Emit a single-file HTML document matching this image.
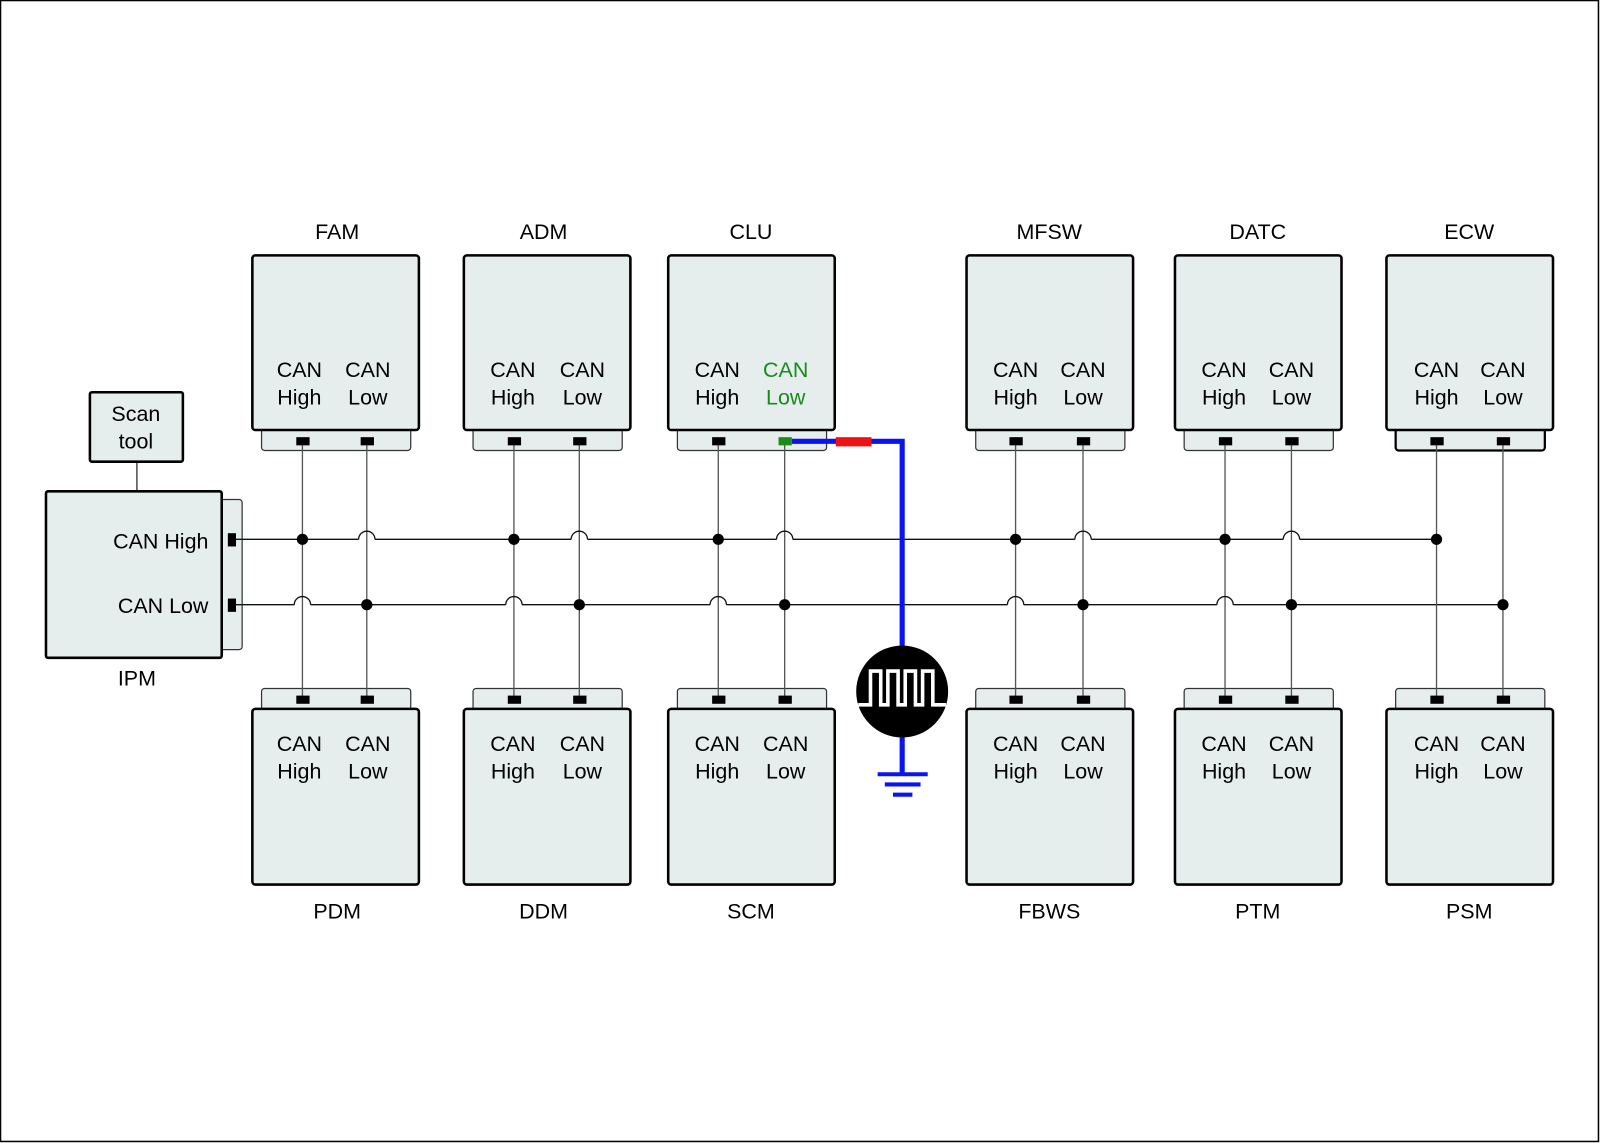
<!DOCTYPE html>
<html><head><meta charset="utf-8"><style>
html,body{margin:0;padding:0;background:#fff}
svg{display:block}
text{font-family:"Liberation Sans",Arial,sans-serif;font-size:21px;fill:#000;text-anchor:middle}
.b{fill:#e6eded;stroke:#000;stroke-width:2.5}
.s{fill:#e6eded;stroke:#333;stroke-width:1.2}
.v{stroke:#555;stroke-width:1.3}
.h{stroke:#111;stroke-width:1.3;fill:none}
</style></head><body>
<svg width="1600" height="1143" viewBox="0 0 1566 1119" preserveAspectRatio="none" xmlns="http://www.w3.org/2000/svg">
<rect x="0.5" y="0.5" width="1564" height="1117" fill="#fff" stroke="#000" stroke-width="1.5"/>

<g>
<rect class="s" x="256" y="415" width="146" height="26" rx="3"/>
<rect class="s" x="463" y="415" width="146" height="26" rx="3"/>
<rect class="s" x="663" y="415" width="146" height="26" rx="3"/>
<rect class="s" x="955" y="415" width="146" height="26" rx="3"/>
<rect class="s" x="1159" y="415" width="146" height="26" rx="3"/>
<rect x="1366" y="415" width="146" height="26" rx="3" fill="#e6eded" stroke="#000" stroke-width="2.2"/>
</g>
<rect class="b" x="247" y="250" width="163" height="171" rx="3"/>
<rect class="b" x="454" y="250" width="163" height="171" rx="3"/>
<rect class="b" x="654" y="250" width="163" height="171" rx="3"/>
<rect class="b" x="946" y="250" width="163" height="171" rx="3"/>
<rect class="b" x="1150" y="250" width="163" height="171" rx="3"/>
<rect class="b" x="1357" y="250" width="163" height="171" rx="3"/>
<rect class="s" x="256" y="674" width="146" height="26" rx="3"/>
<rect class="s" x="463" y="674" width="146" height="26" rx="3"/>
<rect class="s" x="663" y="674" width="146" height="26" rx="3"/>
<rect class="s" x="955" y="674" width="146" height="26" rx="3"/>
<rect class="s" x="1159" y="674" width="146" height="26" rx="3"/>
<rect class="s" x="1366" y="674" width="146" height="26" rx="3"/>
<rect class="b" x="247" y="694" width="163" height="172" rx="3"/>
<rect class="b" x="454" y="694" width="163" height="172" rx="3"/>
<rect class="b" x="654" y="694" width="163" height="172" rx="3"/>
<rect class="b" x="946" y="694" width="163" height="172" rx="3"/>
<rect class="b" x="1150" y="694" width="163" height="172" rx="3"/>
<rect class="b" x="1357" y="694" width="163" height="172" rx="3"/>

<text x="330" y="234">FAM</text><text x="532" y="234">ADM</text><text x="735" y="234">CLU</text>
<text x="1027" y="234">MFSW</text><text x="1231" y="234">DATC</text><text x="1438" y="234">ECW</text>
<text x="330" y="899">PDM</text><text x="532" y="899">DDM</text><text x="735" y="899">SCM</text>
<text x="1027" y="899">FBWS</text><text x="1231" y="899">PTM</text><text x="1438" y="899">PSM</text>

<text x="293" y="369">CAN</text><text x="293" y="396">High</text><text x="360" y="369">CAN</text><text x="360" y="396">Low</text>
<text x="502" y="369">CAN</text><text x="502" y="396">High</text><text x="570" y="369">CAN</text><text x="570" y="396">Low</text>
<text x="702" y="369">CAN</text><text x="702" y="396">High</text><text x="769" y="369" style="fill:#1a8a1a">CAN</text><text x="769" y="396" style="fill:#1a8a1a">Low</text>
<text x="994" y="369">CAN</text><text x="994" y="396">High</text><text x="1060" y="369">CAN</text><text x="1060" y="396">Low</text>
<text x="1198" y="369">CAN</text><text x="1198" y="396">High</text><text x="1264" y="369">CAN</text><text x="1264" y="396">Low</text>
<text x="1406" y="369">CAN</text><text x="1406" y="396">High</text><text x="1471" y="369">CAN</text><text x="1471" y="396">Low</text>
<text x="293" y="735">CAN</text><text x="293" y="762">High</text><text x="360" y="735">CAN</text><text x="360" y="762">Low</text>
<text x="502" y="735">CAN</text><text x="502" y="762">High</text><text x="570" y="735">CAN</text><text x="570" y="762">Low</text>
<text x="702" y="735">CAN</text><text x="702" y="762">High</text><text x="769" y="735">CAN</text><text x="769" y="762">Low</text>
<text x="994" y="735">CAN</text><text x="994" y="762">High</text><text x="1060" y="735">CAN</text><text x="1060" y="762">Low</text>
<text x="1198" y="735">CAN</text><text x="1198" y="762">High</text><text x="1264" y="735">CAN</text><text x="1264" y="762">Low</text>
<text x="1406" y="735">CAN</text><text x="1406" y="762">High</text><text x="1471" y="735">CAN</text><text x="1471" y="762">Low</text>

<line x1="134" y1="452" x2="134" y2="481" stroke="#333" stroke-width="1.3"/>
<rect class="b" x="88" y="384" width="91" height="68" rx="2"/>
<text x="133" y="412">Scan</text><text x="133" y="439">tool</text>
<rect class="s" x="210" y="489" width="27" height="147" rx="3"/>
<rect class="b" x="45" y="481" width="172" height="163" rx="2"/>
<text x="204" y="537" style="text-anchor:end">CAN High</text>
<text x="204" y="600" style="text-anchor:end">CAN Low</text>
<text x="134" y="671">IPM</text>

<line class="h" x1="230" y1="528" x2="1406" y2="528"/>
<line class="h" x1="230" y1="592" x2="1471" y2="592"/>
<g stroke="#fff" stroke-width="4">
<line x1="351" y1="528" x2="367" y2="528"/><line x1="559" y1="528" x2="575" y2="528"/><line x1="760" y1="528" x2="776" y2="528"/>
<line x1="1052" y1="528" x2="1068" y2="528"/><line x1="1256" y1="528" x2="1272" y2="528"/>
<line x1="288" y1="592" x2="304" y2="592"/><line x1="495" y1="592" x2="511" y2="592"/><line x1="695" y1="592" x2="711" y2="592"/>
<line x1="986" y1="592" x2="1002" y2="592"/><line x1="1191" y1="592" x2="1207" y2="592"/>
</g>
<g class="v">
<line x1="296" y1="432" x2="296" y2="685"/><line x1="359" y1="432" x2="359" y2="685"/>
<line x1="503" y1="432" x2="503" y2="685"/><line x1="567" y1="432" x2="567" y2="685"/>
<line x1="703" y1="432" x2="703" y2="685"/><line x1="768" y1="432" x2="768" y2="685"/>
<line x1="994" y1="432" x2="994" y2="685"/><line x1="1060" y1="432" x2="1060" y2="685"/>
<line x1="1199" y1="432" x2="1199" y2="685"/><line x1="1264" y1="432" x2="1264" y2="685"/>
<line x1="1406" y1="432" x2="1406" y2="685"/><line x1="1471" y1="432" x2="1471" y2="685"/>
</g>
<g class="h">
<path d="M351 528A8 8 0 0 1 367 528"/><path d="M559 528A8 8 0 0 1 575 528"/><path d="M760 528A8 8 0 0 1 776 528"/>
<path d="M1052 528A8 8 0 0 1 1068 528"/><path d="M1256 528A8 8 0 0 1 1272 528"/>
<path d="M288 592A8 8 0 0 1 304 592"/><path d="M495 592A8 8 0 0 1 511 592"/><path d="M695 592A8 8 0 0 1 711 592"/>
<path d="M986 592A8 8 0 0 1 1002 592"/><path d="M1191 592A8 8 0 0 1 1207 592"/>
</g>
<g fill="#000">
<circle cx="296" cy="528" r="5.5"/><circle cx="503" cy="528" r="5.5"/><circle cx="703" cy="528" r="5.5"/>
<circle cx="994" cy="528" r="5.5"/><circle cx="1199" cy="528" r="5.5"/><circle cx="1406" cy="528" r="5.5"/>
<circle cx="359" cy="592" r="5.5"/><circle cx="567" cy="592" r="5.5"/><circle cx="768" cy="592" r="5.5"/>
<circle cx="1060" cy="592" r="5.5"/><circle cx="1264" cy="592" r="5.5"/><circle cx="1471" cy="592" r="5.5"/>
</g>
<g fill="#000">
<rect x="290" y="428" width="13" height="8"/><rect x="353" y="428" width="13" height="8"/>
<rect x="497" y="428" width="13" height="8"/><rect x="561" y="428" width="13" height="8"/>
<rect x="697" y="428" width="13" height="8"/>
<rect x="988" y="428" width="13" height="8"/><rect x="1054" y="428" width="13" height="8"/>
<rect x="1193" y="428" width="13" height="8"/><rect x="1258" y="428" width="13" height="8"/>
<rect x="1400" y="428" width="13" height="8"/><rect x="1465" y="428" width="13" height="8"/>
<rect x="290" y="681" width="13" height="8"/><rect x="353" y="681" width="13" height="8"/>
<rect x="497" y="681" width="13" height="8"/><rect x="561" y="681" width="13" height="8"/>
<rect x="697" y="681" width="13" height="8"/><rect x="762" y="681" width="13" height="8"/>
<rect x="988" y="681" width="13" height="8"/><rect x="1054" y="681" width="13" height="8"/>
<rect x="1193" y="681" width="13" height="8"/><rect x="1258" y="681" width="13" height="8"/>
<rect x="1400" y="681" width="13" height="8"/><rect x="1465" y="681" width="13" height="8"/>
<rect x="223" y="522" width="8" height="13"/><rect x="223" y="586" width="8" height="13"/>
</g>
<polyline points="775,432 883,432 883,640" fill="none" stroke="#0a14f0" stroke-width="5"/>
<rect x="818" y="428" width="35" height="9" fill="#ee1111"/>
<rect x="762" y="428" width="13" height="8" fill="#1a8a1a"/>
<line x1="883" y1="715" x2="883" y2="758" stroke="#0a14f0" stroke-width="5"/>
<g stroke="#0a14f0" stroke-width="4">
<line x1="859" y1="758" x2="908" y2="758"/><line x1="866" y1="768" x2="901" y2="768"/><line x1="874" y1="778" x2="893" y2="778"/>
</g>
<circle cx="883" cy="677" r="45" fill="#000"/>
<polyline points="840,690 852,690 852,657 862,657 862,690 869,690 869,657 879,657 879,690 886,690 886,657 896,657 896,690 903,690 903,657 913,657 913,690 926,690" fill="none" stroke="#fff" stroke-width="3.5"/>
</svg>
</body></html>
